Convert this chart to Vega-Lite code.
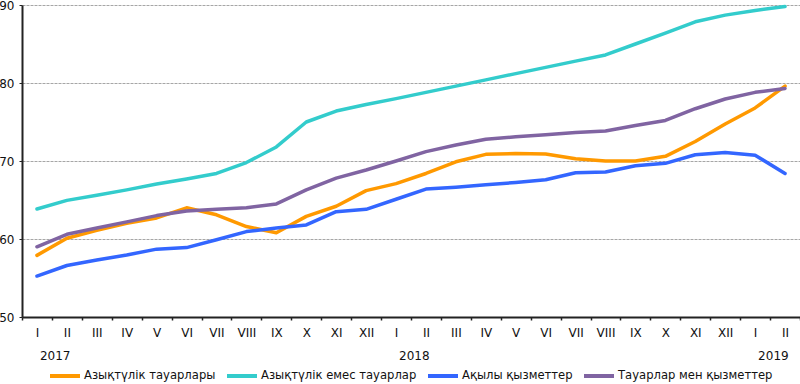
{
  "$schema": "https://vega.github.io/schema/vega-lite/v6.json",
  "width": 778,
  "height": 312,
  "autosize": {"type": "none"},
  "padding": {"left": 22, "top": 5, "right": 0, "bottom": 67},
  "background": "white",
  "config": {
    "font": "DejaVu Sans",
    "view": {"stroke": null},
    "axis": {"labelColor": "#111", "labelFontSize": 12, "domainColor": "#222", "domainWidth": 2, "tickColor": "#222"}
  },
  "data": {"values": [
    {"m": "I 2017", "s": "Азықтүлік тауарлары", "v": 57.9},
    {"m": "II 2017", "s": "Азықтүлік тауарлары", "v": 60.1},
    {"m": "III 2017", "s": "Азықтүлік тауарлары", "v": 61.1},
    {"m": "IV 2017", "s": "Азықтүлік тауарлары", "v": 62.0},
    {"m": "V 2017", "s": "Азықтүлік тауарлары", "v": 62.7},
    {"m": "VI 2017", "s": "Азықтүлік тауарлары", "v": 64.0},
    {"m": "VII 2017", "s": "Азықтүлік тауарлары", "v": 63.1},
    {"m": "VIII 2017", "s": "Азықтүлік тауарлары", "v": 61.6},
    {"m": "IX 2017", "s": "Азықтүлік тауарлары", "v": 60.8},
    {"m": "X 2017", "s": "Азықтүлік тауарлары", "v": 62.9},
    {"m": "XI 2017", "s": "Азықтүлік тауарлары", "v": 64.2},
    {"m": "XII 2017", "s": "Азықтүлік тауарлары", "v": 66.2},
    {"m": "I 2018", "s": "Азықтүлік тауарлары", "v": 67.1},
    {"m": "II 2018", "s": "Азықтүлік тауарлары", "v": 68.4},
    {"m": "III 2018", "s": "Азықтүлік тауарлары", "v": 69.9},
    {"m": "IV 2018", "s": "Азықтүлік тауарлары", "v": 70.85},
    {"m": "V 2018", "s": "Азықтүлік тауарлары", "v": 70.95},
    {"m": "VI 2018", "s": "Азықтүлік тауарлары", "v": 70.9},
    {"m": "VII 2018", "s": "Азықтүлік тауарлары", "v": 70.3},
    {"m": "VIII 2018", "s": "Азықтүлік тауарлары", "v": 70.0},
    {"m": "IX 2018", "s": "Азықтүлік тауарлары", "v": 70.0},
    {"m": "X 2018", "s": "Азықтүлік тауарлары", "v": 70.6},
    {"m": "XI 2018", "s": "Азықтүлік тауарлары", "v": 72.5},
    {"m": "XII 2018", "s": "Азықтүлік тауарлары", "v": 74.75},
    {"m": "I 2019", "s": "Азықтүлік тауарлары", "v": 76.8},
    {"m": "II 2019", "s": "Азықтүлік тауарлары", "v": 79.6},
    {"m": "I 2017", "s": "Азықтүлік емес тауарлар", "v": 63.85},
    {"m": "II 2017", "s": "Азықтүлік емес тауарлар", "v": 64.95},
    {"m": "III 2017", "s": "Азықтүлік емес тауарлар", "v": 65.6},
    {"m": "IV 2017", "s": "Азықтүлік емес тауарлар", "v": 66.3},
    {"m": "V 2017", "s": "Азықтүлік емес тауарлар", "v": 67.05},
    {"m": "VI 2017", "s": "Азықтүлік емес тауарлар", "v": 67.7},
    {"m": "VII 2017", "s": "Азықтүлік емес тауарлар", "v": 68.4},
    {"m": "VIII 2017", "s": "Азықтүлік емес тауарлар", "v": 69.8},
    {"m": "IX 2017", "s": "Азықтүлік емес тауарлар", "v": 71.8},
    {"m": "X 2017", "s": "Азықтүлік емес тауарлар", "v": 75.0},
    {"m": "XI 2017", "s": "Азықтүлік емес тауарлар", "v": 76.4},
    {"m": "XII 2017", "s": "Азықтүлік емес тауарлар", "v": 77.25},
    {"m": "I 2018", "s": "Азықтүлік емес тауарлар", "v": 78.0},
    {"m": "II 2018", "s": "Азықтүлік емес тауарлар", "v": 78.8},
    {"m": "III 2018", "s": "Азықтүлік емес тауарлар", "v": 79.6},
    {"m": "IV 2018", "s": "Азықтүлік емес тауарлар", "v": 80.4},
    {"m": "V 2018", "s": "Азықтүлік емес тауарлар", "v": 81.2},
    {"m": "VI 2018", "s": "Азықтүлік емес тауарлар", "v": 82.0},
    {"m": "VII 2018", "s": "Азықтүлік емес тауарлар", "v": 82.8},
    {"m": "VIII 2018", "s": "Азықтүлік емес тауарлар", "v": 83.6},
    {"m": "IX 2018", "s": "Азықтүлік емес тауарлар", "v": 85.0},
    {"m": "X 2018", "s": "Азықтүлік емес тауарлар", "v": 86.4},
    {"m": "XI 2018", "s": "Азықтүлік емес тауарлар", "v": 87.85},
    {"m": "XII 2018", "s": "Азықтүлік емес тауарлар", "v": 88.7},
    {"m": "I 2019", "s": "Азықтүлік емес тауарлар", "v": 89.3},
    {"m": "II 2019", "s": "Азықтүлік емес тауарлар", "v": 89.8},
    {"m": "I 2017", "s": "Ақылы қызметтер", "v": 55.25},
    {"m": "II 2017", "s": "Ақылы қызметтер", "v": 56.6},
    {"m": "III 2017", "s": "Ақылы қызметтер", "v": 57.3},
    {"m": "IV 2017", "s": "Ақылы қызметтер", "v": 57.95},
    {"m": "V 2017", "s": "Ақылы қызметтер", "v": 58.7},
    {"m": "VI 2017", "s": "Ақылы қызметтер", "v": 58.9},
    {"m": "VII 2017", "s": "Ақылы қызметтер", "v": 59.9},
    {"m": "VIII 2017", "s": "Ақылы қызметтер", "v": 60.95},
    {"m": "IX 2017", "s": "Ақылы қызметтер", "v": 61.4},
    {"m": "X 2017", "s": "Ақылы қызметтер", "v": 61.8},
    {"m": "XI 2017", "s": "Ақылы қызметтер", "v": 63.5},
    {"m": "XII 2017", "s": "Ақылы қызметтер", "v": 63.8},
    {"m": "I 2018", "s": "Ақылы қызметтер", "v": 65.1},
    {"m": "II 2018", "s": "Ақылы қызметтер", "v": 66.4},
    {"m": "III 2018", "s": "Ақылы қызметтер", "v": 66.65},
    {"m": "IV 2018", "s": "Ақылы қызметтер", "v": 66.95},
    {"m": "V 2018", "s": "Ақылы қызметтер", "v": 67.25},
    {"m": "VI 2018", "s": "Ақылы қызметтер", "v": 67.6},
    {"m": "VII 2018", "s": "Ақылы қызметтер", "v": 68.5},
    {"m": "VIII 2018", "s": "Ақылы қызметтер", "v": 68.6},
    {"m": "IX 2018", "s": "Ақылы қызметтер", "v": 69.4},
    {"m": "X 2018", "s": "Ақылы қызметтер", "v": 69.7},
    {"m": "XI 2018", "s": "Ақылы қызметтер", "v": 70.8},
    {"m": "XII 2018", "s": "Ақылы қызметтер", "v": 71.1},
    {"m": "I 2019", "s": "Ақылы қызметтер", "v": 70.75},
    {"m": "II 2019", "s": "Ақылы қызметтер", "v": 68.4},
    {"m": "I 2017", "s": "Тауарлар мен қызметтер", "v": 59.0},
    {"m": "II 2017", "s": "Тауарлар мен қызметтер", "v": 60.6},
    {"m": "III 2017", "s": "Тауарлар мен қызметтер", "v": 61.4},
    {"m": "IV 2017", "s": "Тауарлар мен қызметтер", "v": 62.2},
    {"m": "V 2017", "s": "Тауарлар мен қызметтер", "v": 63.0},
    {"m": "VI 2017", "s": "Тауарлар мен қызметтер", "v": 63.6},
    {"m": "VII 2017", "s": "Тауарлар мен қызметтер", "v": 63.8},
    {"m": "VIII 2017", "s": "Тауарлар мен қызметтер", "v": 64.0},
    {"m": "IX 2017", "s": "Тауарлар мен қызметтер", "v": 64.5},
    {"m": "X 2017", "s": "Тауарлар мен қызметтер", "v": 66.3},
    {"m": "XI 2017", "s": "Тауарлар мен қызметтер", "v": 67.8},
    {"m": "XII 2017", "s": "Тауарлар мен қызметтер", "v": 68.85},
    {"m": "I 2018", "s": "Тауарлар мен қызметтер", "v": 70.0},
    {"m": "II 2018", "s": "Тауарлар мен қызметтер", "v": 71.2},
    {"m": "III 2018", "s": "Тауарлар мен қызметтер", "v": 72.05},
    {"m": "IV 2018", "s": "Тауарлар мен қызметтер", "v": 72.8},
    {"m": "V 2018", "s": "Тауарлар мен қызметтер", "v": 73.1},
    {"m": "VI 2018", "s": "Тауарлар мен қызметтер", "v": 73.35},
    {"m": "VII 2018", "s": "Тауарлар мен қызметтер", "v": 73.65},
    {"m": "VIII 2018", "s": "Тауарлар мен қызметтер", "v": 73.85},
    {"m": "IX 2018", "s": "Тауарлар мен қызметтер", "v": 74.55},
    {"m": "X 2018", "s": "Тауарлар мен қызметтер", "v": 75.2},
    {"m": "XI 2018", "s": "Тауарлар мен қызметтер", "v": 76.7},
    {"m": "XII 2018", "s": "Тауарлар мен қызметтер", "v": 77.95},
    {"m": "I 2019", "s": "Тауарлар мен қызметтер", "v": 78.8},
    {"m": "II 2019", "s": "Тауарлар мен қызметтер", "v": 79.3}
  ]},
  "resolve": {"axis": {"x": "independent"}},
  "layer": [
    {
      "mark": {"type": "line", "strokeWidth": 3.5, "strokeJoin": "round", "strokeCap": "round"},
      "encoding": {
        "x": {
          "field": "m", "type": "nominal", "sort": null, "bandPosition": 0.5,
          "scale": {"type": "band", "paddingInner": 0, "paddingOuter": 0},
          "axis": {
            "orient": "bottom", "title": null, "labelAngle": 0, "tickBand": "extent", "tickSize": 3, "tickWidth": 1.5,
            "labelPadding": 7, "grid": false,
            "labelExpr": "datum.value ? split(datum.value, ' ')[0] : ''"
          }
        },
        "y": {
          "field": "v", "type": "quantitative",
          "scale": {"domain": [50, 90], "nice": false, "zero": false},
          "axis": {
            "title": null, "values": [50, 60, 70, 80, 90], "tickSize": 3, "labelPadding": 5,
            "grid": true, "gridColor": "#a6a6a6", "gridWidth": 1, "gridDash": [3, 1]
          }
        },
        "color": {
          "field": "s", "type": "nominal",
          "scale": {
            "domain": ["Азықтүлік тауарлары", "Азықтүлік емес тауарлар", "Ақылы қызметтер", "Тауарлар мен қызметтер"],
            "range": ["#ff9900", "#33cccc", "#3366ff", "#8064a2"]
          },
          "legend": {
            "title": null, "orient": "none", "legendX": 26, "legendY": 354, "direction": "horizontal",
            "symbolType": "stroke", "symbolStrokeWidth": 4, "symbolSize": 900,
            "labelFontSize": 11.6, "labelColor": "#111", "labelOffset": 2, "labelLimit": 400, "columnPadding": 3
          }
        }
      }
    },
    {
      "mark": {"type": "point", "opacity": 0},
      "encoding": {
        "x": {
          "field": "m", "type": "nominal", "sort": null, "bandPosition": 0.5,
          "axis": {
            "orient": "bottom", "title": null, "labelAngle": 0, "domain": false, "ticks": false, "grid": false,
            "offset": 31, "labelPadding": 2, "labelAlign": "left", "labelOffset": 3,
            "labelExpr": "datum.value && split(datum.value, ' ')[0] == 'I' ? split(datum.value, ' ')[1] : ''"
          }
        }
      }
    }
  ]
}
